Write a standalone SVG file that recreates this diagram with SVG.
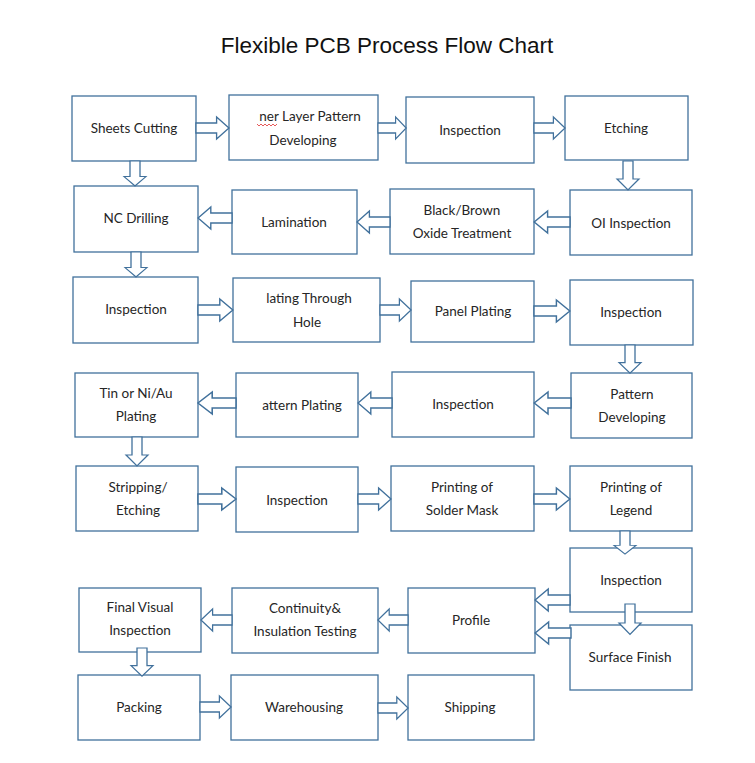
<svg xmlns="http://www.w3.org/2000/svg" width="755" height="763" viewBox="0 0 755 763">
<style>
.b{fill:#fff;stroke:#41719c;stroke-width:1.3}
.t{font-family:Lato,"Noto Sans",sans-serif;font-size:13.5px;fill:#262626;text-anchor:middle}
.a{fill:#fff;stroke:#41719c;stroke-width:1.3}
</style>
<defs><path id="ar" d="M0,-5 H20 V-11 L32,0 L20,11 V5 H0 Z"/></defs>
<rect width="755" height="763" fill="#fff"/>
<text x="387" y="53" style="font-family:'Liberation Sans',Arial,sans-serif;font-size:22.5px;fill:#111;text-anchor:middle">Flexible PCB Process Flow Chart</text>
<g id="n1"><rect class="b" x="72" y="96" width="124" height="65"/><text class="t" x="134" y="133">Sheets Cutting</text></g>
<g id="n2"><rect class="b" x="229" y="95" width="149" height="65"/><text class="t" x="310" y="121">ner Layer Pattern</text><text class="t" x="303" y="145">Developing</text><path d="M257,124 l2,2 l2,-2 l2,2 l2,-2 l2,2 l2,-2 l2,2 l2,-2 l2,2 l2,-2" fill="none" stroke="#e03030" stroke-width="0.8"/></g>
<g id="n3"><rect class="b" x="406" y="97" width="128" height="66"/><text class="t" x="470" y="135">Inspection</text></g>
<g id="n4"><rect class="b" x="565" y="96" width="123" height="64"/><text class="t" x="626" y="133">Etching</text></g>
<g id="n5"><rect class="b" x="74" y="186" width="124" height="66"/><text class="t" x="136" y="223">NC Drilling</text></g>
<g id="n6"><rect class="b" x="232" y="190" width="125" height="64"/><text class="t" x="294" y="227">Lamination</text></g>
<g id="n7"><rect class="b" x="390" y="189" width="144" height="65"/><text class="t" x="462" y="215">Black/Brown</text><text class="t" x="462" y="238">Oxide Treatment</text></g>
<g id="n8"><rect class="b" x="570" y="190" width="122" height="65"/><text class="t" x="631" y="228">OI Inspection</text></g>
<g id="n9"><rect class="b" x="73" y="277" width="125" height="66"/><text class="t" x="136" y="314">Inspection</text></g>
<g id="n10"><rect class="b" x="233" y="278" width="147" height="64"/><text class="t" x="309" y="303">lating Through</text><text class="t" x="307" y="327">Hole</text></g>
<g id="n11"><rect class="b" x="411" y="281" width="123" height="61"/><text class="t" x="473" y="316">Panel Plating</text></g>
<g id="n12"><rect class="b" x="570" y="280" width="123" height="65"/><text class="t" x="631" y="317">Inspection</text></g>
<g id="n13"><rect class="b" x="75" y="373" width="123" height="64"/><text class="t" x="136" y="398">Tin or Ni/Au</text><text class="t" x="136" y="421">Plating</text></g>
<g id="n14"><rect class="b" x="236" y="373" width="122" height="64"/><text class="t" x="302" y="410">attern Plating</text></g>
<g id="n15"><rect class="b" x="392" y="372" width="142" height="65"/><text class="t" x="463" y="409">Inspection</text></g>
<g id="n16"><rect class="b" x="571" y="373" width="121" height="65"/><text class="t" x="632" y="399">Pattern</text><text class="t" x="632" y="422">Developing</text></g>
<g id="n17"><rect class="b" x="76" y="466" width="122" height="65"/><text class="t" x="138" y="492">Stripping/</text><text class="t" x="138" y="515">Etching</text></g>
<g id="n18"><rect class="b" x="236" y="467" width="122" height="65"/><text class="t" x="297" y="505">Inspection</text></g>
<g id="n19"><rect class="b" x="391" y="466" width="143" height="65"/><text class="t" x="462" y="492">Printing of</text><text class="t" x="462" y="515">Solder Mask</text></g>
<g id="n20"><rect class="b" x="570" y="466" width="122" height="65"/><text class="t" x="631" y="492">Printing of</text><text class="t" x="631" y="515">Legend</text></g>
<g id="n21"><rect class="b" x="570" y="548" width="122" height="64"/><text class="t" x="631" y="585">Inspection</text></g>
<g id="n22"><rect class="b" x="570" y="625" width="122" height="65"/><text class="t" x="630" y="662">Surface Finish</text></g>
<g id="n23"><rect class="b" x="408" y="588" width="127" height="65"/><text class="t" x="471" y="625">Profile</text></g>
<g id="n24"><rect class="b" x="232" y="588" width="146" height="65"/><text class="t" x="305" y="613">Continuity&amp;</text><text class="t" x="305" y="636">Insulation Testing</text></g>
<g id="n25"><rect class="b" x="79" y="588" width="122" height="64"/><text class="t" x="140" y="612">Final Visual</text><text class="t" x="140" y="635">Inspection</text></g>
<g id="n26"><rect class="b" x="78" y="675" width="122" height="65"/><text class="t" x="139" y="712">Packing</text></g>
<g id="n27"><rect class="b" x="231" y="675" width="147" height="65"/><text class="t" x="304" y="712">Warehousing</text></g>
<g id="n28"><rect class="b" x="408" y="675" width="126" height="65"/><text class="t" x="470" y="712">Shipping</text></g>
<g id="connectors" class="a">
<use href="#ar" transform="translate(196,128) scale(1.03,1)"/>
<use href="#ar" transform="translate(378,128) scale(0.88,1)"/>
<use href="#ar" transform="translate(534,128) scale(0.97,1)"/>
<use href="#ar" transform="translate(628,161) rotate(90) scale(0.9,1)"/>
<use href="#ar" transform="translate(570,222) rotate(180) scale(1.12,1)"/>
<use href="#ar" transform="translate(390,222) rotate(180) scale(1.03,1)"/>
<use href="#ar" transform="translate(232,218) rotate(180) scale(1.06,1)"/>
<use href="#ar" transform="translate(135,161) rotate(90) scale(0.78,1)"/>
<use href="#ar" transform="translate(136,252) rotate(90) scale(0.78,1)"/>
<use href="#ar" transform="translate(198,310) scale(1.09,1)"/>
<use href="#ar" transform="translate(380,310) scale(0.97,1)"/>
<use href="#ar" transform="translate(534,311) scale(1.12,1)"/>
<use href="#ar" transform="translate(630,345) rotate(90) scale(0.88,1)"/>
<use href="#ar" transform="translate(571,403) rotate(180) scale(1.15,1)"/>
<use href="#ar" transform="translate(392,403) rotate(180) scale(1.06,1)"/>
<use href="#ar" transform="translate(236,403) rotate(180) scale(1.19,1)"/>
<use href="#ar" transform="translate(137,437) rotate(90) scale(0.9,1)"/>
<use href="#ar" transform="translate(198,499) scale(1.19,1)"/>
<use href="#ar" transform="translate(358,499) scale(1.03,1)"/>
<use href="#ar" transform="translate(534,499) scale(1.12,1)"/>
<use href="#ar" transform="translate(625,531) rotate(90) scale(0.72,1)"/>
<use href="#ar" transform="translate(630,604) rotate(90) scale(0.95,1)"/>
<use href="#ar" transform="translate(570,600) rotate(180) scale(1.09,1)"/>
<use href="#ar" transform="translate(571,633) rotate(180) scale(1.12,1)"/>
<use href="#ar" transform="translate(408,620) rotate(180) scale(0.94,1)"/>
<use href="#ar" transform="translate(232,620) rotate(180) scale(0.97,1)"/>
<use href="#ar" transform="translate(142,648) rotate(90) scale(0.88,1)"/>
<use href="#ar" transform="translate(200,707) scale(0.97,1)"/>
<use href="#ar" transform="translate(378,708) scale(0.94,1)"/>
</g>
</svg>
